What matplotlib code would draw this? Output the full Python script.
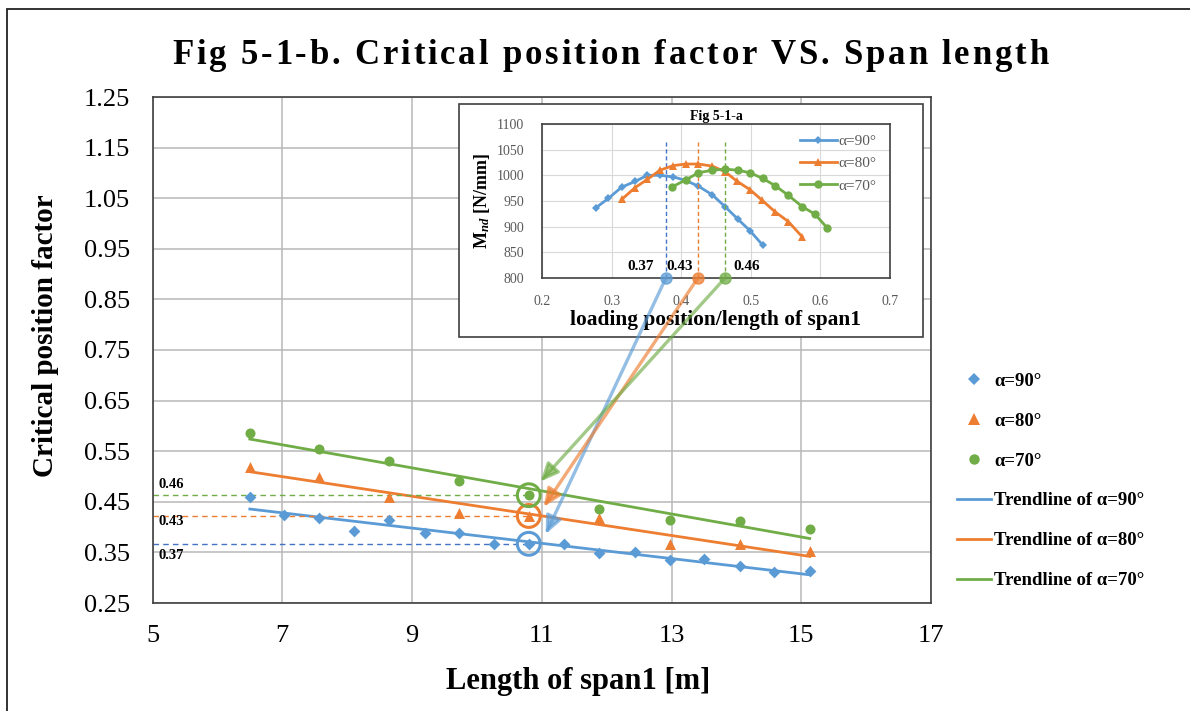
import numpy as np
import matplotlib
matplotlib.use("Agg")
import matplotlib.pyplot as plt
from matplotlib.patches import Rectangle, ConnectionPatch
from matplotlib.lines import Line2D
from matplotlib.font_manager import FontProperties

plt.rcParams['font.family'] = ['Liberation Serif', 'DejaVu Serif']
plt.rcParams['mathtext.fontset'] = 'custom'
plt.rcParams['mathtext.rm'] = 'Liberation Serif:bold'
plt.rcParams['mathtext.it'] = 'Liberation Serif:italic:bold'

# main chart data (span length vs critical position factor)
span_90 = [6.5, 7.03, 7.57, 8.1, 8.65, 9.2, 9.73, 10.27, 10.8, 11.35, 11.88, 12.43, 12.97, 13.5, 14.05, 14.58, 15.13]
factor_90 = [0.460, 0.424, 0.418, 0.392, 0.414, 0.388, 0.388, 0.367, 0.367, 0.367, 0.349, 0.351, 0.335, 0.337, 0.323, 0.311, 0.313]
span_80 = [6.5, 7.57, 8.65, 9.73, 10.8, 11.88, 12.97, 14.05, 15.13]
factor_80 = [0.519, 0.499, 0.460, 0.428, 0.422, 0.418, 0.367, 0.367, 0.353]
span_70 = [6.5, 7.57, 8.65, 9.73, 10.8, 11.88, 12.97, 14.05, 15.13]
factor_70 = [0.586, 0.554, 0.531, 0.491, 0.463, 0.436, 0.414, 0.412, 0.396]

# inset data (loading position ratio vs moment)
pos_90 = [0.2776, 0.2953, 0.3145, 0.3336, 0.3513, 0.3695, 0.3887, 0.4064, 0.4246, 0.4447, 0.4630, 0.4812, 0.4989, 0.5171]
m_90 = [937, 955, 977, 988, 1000, 1000, 997, 990, 979, 962, 939, 915, 892, 864]
pos_80 = [0.3145, 0.3336, 0.3513, 0.3695, 0.3887, 0.4064, 0.4246, 0.4447, 0.4630, 0.4797, 0.4989, 0.5166, 0.5348, 0.5539, 0.5740]
m_80 = [953, 976, 992, 1010, 1019, 1022, 1022, 1018, 1007, 989, 972, 951, 929, 910, 880]
pos_70 = [0.3863, 0.4064, 0.4246, 0.4447, 0.4630, 0.4812, 0.4989, 0.5171, 0.5348, 0.5540, 0.5740, 0.5925, 0.6101]
m_70 = [977, 991, 1005, 1010, 1012, 1010, 1005, 994, 980, 961, 939, 924, 897]

crit_span = 10.8
crit_factor = [0.367, 0.422, 0.463]
crit_labels = ['0.37', '0.43', '0.46']
crit_pos = [0.378, 0.424, 0.463]
crit_label_pos = [0.341, 0.398, 0.4945]
arrow_tips = [(11.06, 0.386), (11.03, 0.440), (10.98, 0.490)]

colors = ['#5B9BD5', '#ED7D31', '#70AD47']
dash_colors = ['#4472C4', '#ED7D31', '#70AD47']
names = ['α=90°', 'α=80°', 'α=70°']
title = 'Fig 5-1-b. Critical position factor VS. Span length'

W, H = 1190, 711
fig = plt.figure(figsize=(W / 100, H / 100), dpi=100)

# outer chart border
fig.patches.append(Rectangle((7 / W, -0.1), 1.2, 1.1 - 9 / H, transform=fig.transFigure,
                             fill=False, edgecolor='#222222', lw=1.3, zorder=0))

ax = fig.add_axes([152.5 / W, 1 - 603 / H, (931 - 152.5) / W, (603 - 97) / H])
ax.set_xlim(5, 17)
ax.set_ylim(0.25, 1.25)
ax.set_xticks(np.arange(5, 17.1, 2))
ax.set_yticks(np.arange(0.25, 1.251, 0.1))
ax.set_yticklabels([f'{v:.2f}' for v in np.arange(0.25, 1.251, 0.1)])
ax.tick_params(length=0, labelsize=19, pad=16)
ax.grid(True, color='#b8b8b8', lw=1.1)
ax.set_axisbelow(True)
for s in ax.spines.values():
    s.set_color('#404040')
    s.set_linewidth(1.2)

markers = ['D', '^', 'o']
msizes = [36, 62, 52]
spans = [span_90, span_80, span_70]
factors = [factor_90, factor_80, factor_70]
handles = []
for i in range(3):
    ax.scatter(spans[i], factors[i], marker=markers[i], s=msizes[i], color=colors[i], zorder=3, linewidths=0)
    handles.append(Line2D([], [], ls='none', marker=markers[i], ms=[6, 8, 7.5][i],
                          color=colors[i], markeredgewidth=0))
trend_handles = []
for i in range(3):
    k, b = np.polyfit(spans[i], factors[i], 1)
    xs = np.array([min(spans[i]), max(spans[i])])
    ax.plot(xs, k * xs + b, color=colors[i], lw=2, zorder=2)
    trend_handles.append(Line2D([], [], color=colors[i], lw=2))

# critical points: dashed guides, labels and circles
label_off = [-8.6, -4, 8]
for i in range(3):
    ax.plot([5, crit_span], [crit_factor[i], crit_factor[i]], ls=(0, (4, 3)), lw=1, color=dash_colors[i], zorder=2)
    ax.scatter([crit_span], [crit_factor[i]], s=270, facecolors='none', edgecolors=colors[i], linewidths=2.2, zorder=4)
    ax.annotate(crit_labels[i], (5, crit_factor[i]), xytext=(4, label_off[i]), textcoords='offset points',
                ha='left', va='center', fontsize=10.5, fontweight='bold')

ax.legend(handles + trend_handles, names + ['Trendline of ' + n for n in names],
          loc='upper left', bbox_to_anchor=(940 / W, 1 - 356 / H), bbox_transform=fig.transFigure,
          frameon=False, prop={'weight': 'bold', 'size': 13.5}, handlelength=1.8,
          handletextpad=0.2, labelspacing=1.21)

ax.set_xlabel('Length of span1 [m]', fontsize=22, fontweight='bold')
ax.xaxis.set_label_coords((578 - 152.5) / (931 - 152.5), -(681 - 603) / (603 - 97), transform=ax.transAxes)
ax.set_ylabel('Critical position factor', fontsize=21, fontweight='bold')
ax.yaxis.set_label_coords(-(152.5 - 45) / (931 - 152.5), (603 - 336) / (603 - 97), transform=ax.transAxes)
ax.xaxis.label.set_va('center')
ax.yaxis.label.set_va('center')

# title with wide letter spacing, like the original
renderer = fig.canvas.get_renderer()
tprop = FontProperties(family='Liberation Serif', weight='bold', size=25)
bar_w = renderer.get_text_width_height_descent('|', tprop, ismath=False)[0]
def prefix_w(s):
    return renderer.get_text_width_height_descent(s + '|', tprop, ismath=False)[0] - bar_w
full_w = renderer.get_text_width_height_descent(title, tprop, ismath=False)[0]
track = (876 - full_w) / (len(title) - 1)
for i, ch in enumerate(title):
    if ch == ' ':
        continue
    x = 172 + prefix_w(title[:i]) + i * track
    fig.text(x / W, 1 - 64 / H, ch, fontproperties=tprop, ha='left', va='baseline')

# inset chart
fig.patches.append(Rectangle((459 / W, 1 - 337 / H), (923 - 459) / W, (337 - 104) / H,
                             transform=fig.transFigure, facecolor='white', edgecolor='#404040',
                             lw=1.2, zorder=2))
axin = fig.add_axes([542 / W, 1 - 278 / H, (890 - 542) / W, (278 - 124) / H], zorder=3)
axin.set_xlim(0.2, 0.7)
axin.set_ylim(800, 1100)
axin.set_xticks(np.arange(0.2, 0.71, 0.1))
axin.set_xticklabels([f'{v:.1f}' for v in np.arange(0.2, 0.71, 0.1)])
axin.set_yticks(np.arange(800, 1101, 50))
axin.tick_params(length=0, labelsize=10, labelcolor='#595959')
axin.tick_params(axis='x', pad=12)
axin.tick_params(axis='y', pad=13)
axin.grid(True, color='#d9d9d9', lw=0.8)
axin.set_axisbelow(True)
for s in axin.spines.values():
    s.set_color('#404040')
    s.set_linewidth(1.2)

pos = [pos_90, pos_80, pos_70]
ms = [m_90, m_80, m_70]
for i in range(3):
    axin.plot(pos[i], ms[i], marker=markers[i], ms=[4.5, 6, 6][i], color=colors[i], lw=2,
              markeredgewidth=0, label=names[i])
    axin.plot([crit_pos[i], crit_pos[i]], [800, 1065], ls=(0, (3, 2)), lw=1, color=dash_colors[i])
    axin.text(crit_label_pos[i], 822, crit_labels[i], ha='center', va='center',
              fontsize=11, fontweight='bold')
axin.legend(loc='upper right', bbox_to_anchor=(1.0, 1.02), frameon=False, fontsize=11,
            labelcolor='#595959', handlelength=2.4, handletextpad=0.1, labelspacing=0.55)
axin.set_title('Fig 5-1-a', fontsize=10, fontweight='bold', pad=3)
axin.set_xlabel('loading position/length of span1', fontsize=15.4, fontweight='bold', labelpad=2)
axin.set_ylabel(r'M$_{nd}$ [N/mm]', fontsize=13, fontweight='bold', labelpad=3)

# arrows from inset peaks down to the circled points
for i in range(3):
    con = ConnectionPatch(xyA=(crit_pos[i], 800), coordsA=axin.transData,
                          xyB=arrow_tips[i], coordsB=ax.transData,
                          arrowstyle='-|>,head_length=0.9,head_width=0.4', color=colors[i],
                          lw=2.4, alpha=0.65, zorder=6, shrinkA=0, shrinkB=0, mutation_scale=12)
    fig.add_artist(con)
    axin.plot([crit_pos[i]], [800], 'o', ms=8, color=colors[i], alpha=0.75, clip_on=False, zorder=7)

fig.savefig('out.png', dpi=100)
